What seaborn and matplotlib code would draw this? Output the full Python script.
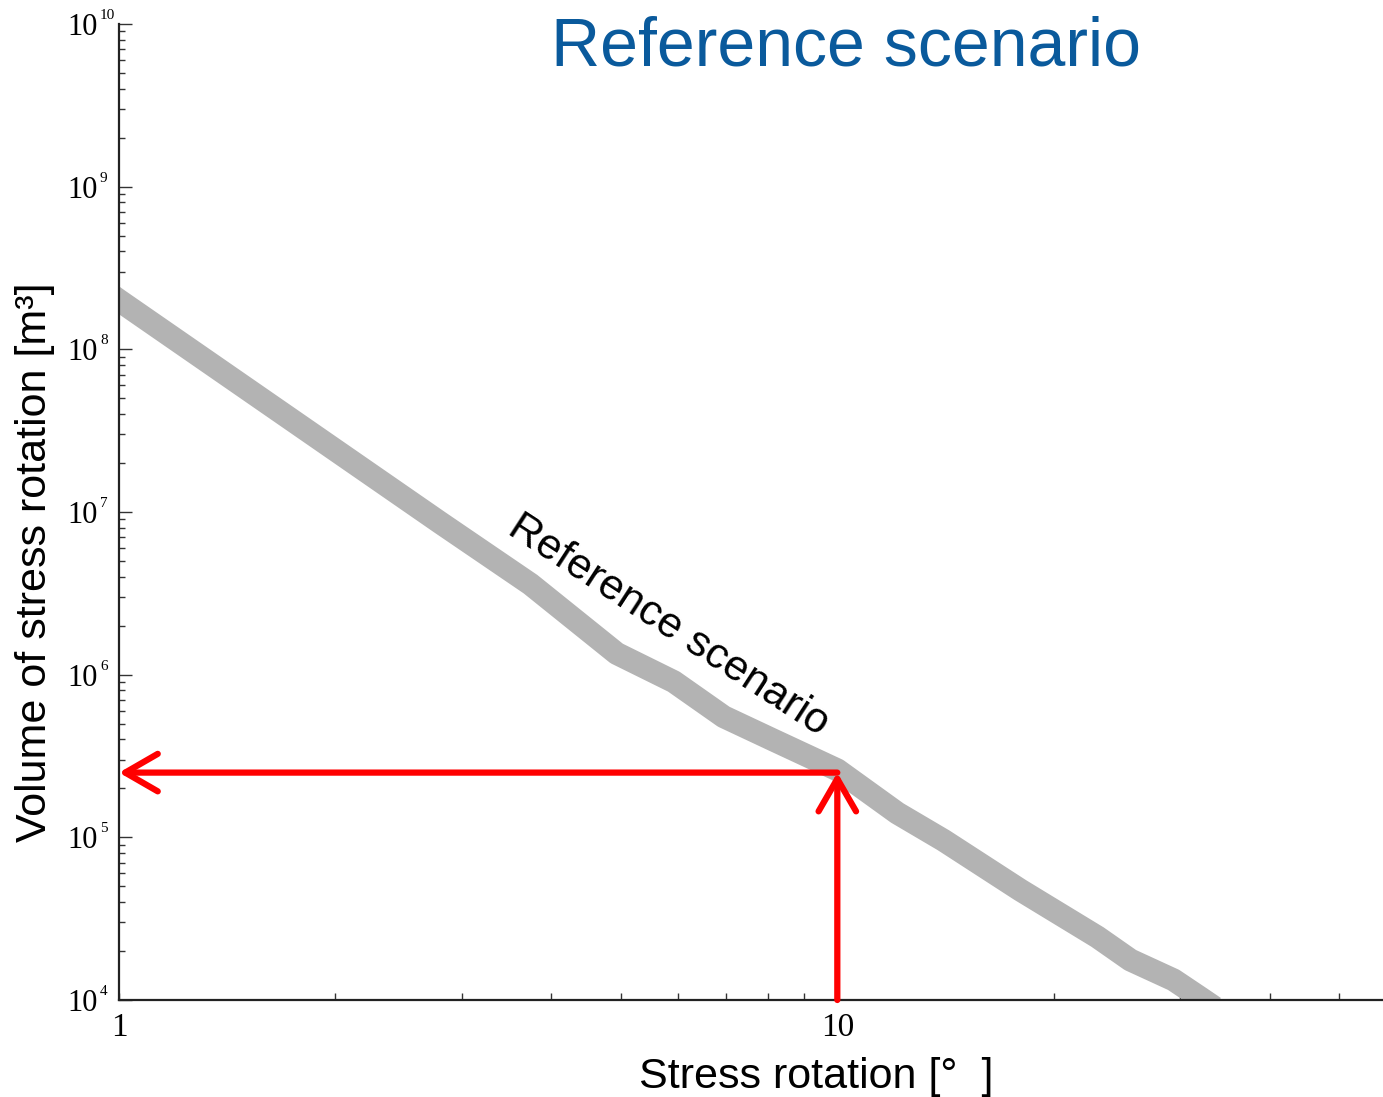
import numpy as np
import pandas as pd
import matplotlib
matplotlib.use("Agg")
import matplotlib.pyplot as plt
import matplotlib.ticker as mticker
import seaborn as sns

# ---------------- data ----------------
stress_rotation = [0.95, 1.0, 2.80, 3.74, 4.93, 5.92, 6.95, 8.15, 10.0,
                   12.12, 14.05, 17.98, 23.02, 25.59, 29.38, 32.03, 33.5]
volume = [2.35e8, 2.0e8, 8.6e6, 3.6e6, 1.35e6, 9.06e5, 5.51e5, 3.96e5, 2.6e5,
          1.41e5, 9.6e4, 4.74e4, 2.44e4, 1.76e4, 1.33e4, 1.03e4, 9.0e3]
scenario_label = "Reference scenario"
marked_rotation = 10.0
marked_volume = 2.5e5
x_tick_values = [1, 10]
x_tick_labels = ["1", "10"]
y_exponents = [4, 5, 6, 7, 8, 9, 10]

df = pd.DataFrame({"rotation": stress_rotation, "volume": volume})

# ---------------- style ----------------
sns.set_style("ticks")
plt.rcParams["font.family"] = ["Liberation Sans", "DejaVu Sans"]
plt.rcParams["text.color"] = "black"

W, H = 1383, 1097
fig = plt.figure(figsize=(W / 100, H / 100), dpi=100)
ax = fig.add_axes([119 / W, 97 / H, 1 - 119 / W, (1000 - 24) / H])

sns.lineplot(data=df, x="rotation", y="volume", ax=ax, color="#b3b3b3",
             linewidth=16.5, solid_capstyle="butt", solid_joinstyle="round",
             sort=False, estimator=None)

ax.set_xscale("log")
ax.set_yscale("log")
ax.set_xlim(1, 57.5)
ax.set_ylim(1e4, 1e10)

# red arrows
arrow_kw = dict(arrowstyle="->,head_length=1.3,head_width=0.75", color="red",
                lw=4.5, shrinkA=0, shrinkB=0, mutation_scale=18,
                capstyle="round", joinstyle="round")
ax.annotate("", xy=(1.0, marked_volume), xytext=(marked_rotation, marked_volume),
            arrowprops=arrow_kw, annotation_clip=False)
ax.annotate("", xy=(marked_rotation, marked_volume), xytext=(marked_rotation, 1e4),
            arrowprops=arrow_kw, annotation_clip=False)

# curve label
ax.text(5.82, 2.02e6, scenario_label, rotation=-33, rotation_mode="anchor",
        ha="center", va="center", fontsize=31, color="black",
        family=["Liberation Sans", "DejaVu Sans"])

# spines
for s in ["top", "right"]:
    ax.spines[s].set_visible(False)
for s in ["left", "bottom"]:
    ax.spines[s].set_color("#222222")
    ax.spines[s].set_linewidth(1.6)

# ticks
ax.xaxis.set_major_locator(mticker.FixedLocator(x_tick_values))
ax.xaxis.set_major_formatter(mticker.FixedFormatter(x_tick_labels))
ax.xaxis.set_minor_locator(mticker.LogLocator(base=10, subs=np.arange(2, 10)))
ax.xaxis.set_minor_formatter(mticker.NullFormatter())
ax.yaxis.set_major_locator(mticker.FixedLocator([10.0 ** k for k in y_exponents]))
ax.yaxis.set_major_formatter(mticker.FixedFormatter(["10"] * len(y_exponents)))
ax.yaxis.set_minor_locator(mticker.LogLocator(base=10, subs=np.arange(2, 10)))
ax.yaxis.set_minor_formatter(mticker.NullFormatter())

ax.tick_params(axis="x", which="both", direction="in", length=5, width=1.0,
               color="#333333", pad=9, labelsize=24, bottom=True, top=False)
ax.tick_params(axis="y", which="major", direction="in", length=9, width=1.0,
               color="#333333", pad=15, labelsize=22, left=True, right=False)
ax.tick_params(axis="y", which="minor", direction="in", length=4.5, width=1.0,
               color="#333333", left=True, right=False)
for lab in ax.get_xticklabels() + ax.get_yticklabels():
    lab.set_family(["Liberation Serif", "DejaVu Serif"])
    lab.set_color("black")

for k in y_exponents:
    ax.annotate(str(k), xy=(0, 10.0 ** k), xycoords=("axes fraction", "data"),
                xytext=(-19, 5), textcoords="offset pixels", ha="left", va="baseline",
                fontsize=11, family=["Liberation Serif", "DejaVu Serif"],
                color="black", annotation_clip=False)

ax.set_xlabel("")
ax.set_ylabel("")

# axis titles and heading
fig.text(35 / W, 1 - 562 / H, "Volume of stress rotation [m³]", rotation=90,
         ha="center", va="center", fontsize=31, color="black")
fig.text(816 / W, 1 - 1088 / H, "Stress rotation [°  ]", ha="center",
         va="baseline", fontsize=31, color="black")
fig.text(846 / W, 1 - 65 / H, scenario_label, ha="center", va="baseline",
         fontsize=49, color="#0a5a9c")

fig.savefig("out.png", dpi=100)
